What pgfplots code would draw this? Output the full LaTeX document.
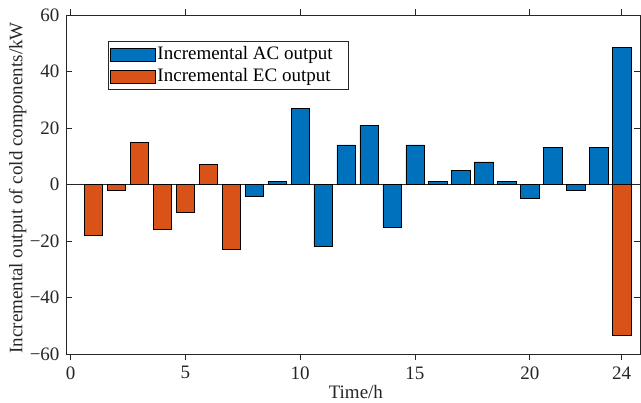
\documentclass[border=0pt]{standalone}
\usepackage{fontspec}
\setmainfont{Liberation Serif}
\usepackage{pgfplots}
\pgfplotsset{compat=1.18}
\definecolor{acblue}{RGB}{0,114,189}
\definecolor{ecorange}{RGB}{217,83,25}
\definecolor{axgray}{RGB}{38,38,38}
\begin{document}
\fontsize{19bp}{23bp}\selectfont
\begin{tikzpicture}
\useasboundingbox (-66bp,-49bp) rectangle (575bp,354bp);
\begin{axis}[
 at={(0,0)}, anchor=south west,
 scale only axis, width=574bp, height=339bp,
 xmin=-0.2, xmax=24.8, ymin=-60, ymax=60,
 xtick={0,5,10,15,20,24},
 ytick={-60,-40,-20,0,20,40,60},
 yticklabels={−60,−40,−20,0,20,40,60},
 tick align=inside,
 major tick length=6bp,
 axis line style={axgray, line width=0.6pt},
 tick style={axgray, line width=0.6pt},
 tick label style={font=\fontsize{19bp}{23bp}\selectfont, text=axgray},
 /pgf/number format/assume math mode=true,
 xlabel={Time/h},
 ylabel={Incremental output of cold components/kW},
 xlabel style={at={(axis description cs:0.505,-0.112)}, anchor=center, text=axgray},
 ylabel style={at={(axis description cs:-0.084,0.49)}, anchor=center, text=axgray},
 ybar, bar width=0.8, bar shift=0pt,
 extra y ticks={0}, extra y tick labels={},
 extra y tick style={grid=major, major grid style={axgray, line width=0.6pt}, major tick length=0pt},
 legend style={at={(axis description cs:0.0725,0.923)}, anchor=north west, draw=axgray, line width=0.6pt,
   font=\fontsize{19bp}{23bp}\selectfont, inner xsep=2bp, inner ysep=3bp, row sep=2bp},
 legend cell align=left,
]
\addplot[fill=acblue, draw=black, line width=0.6pt, bar shift=0pt,
  legend image code/.code={\draw[fill=acblue,draw=black,line width=0.6pt] (0bp,-6.5bp) rectangle (45bp,6.5bp);}]
 coordinates {(8,-4) (9,1) (10,27) (11,-22) (12,14) (13,21) (14,-15) (15,14) (16,1) (17,5) (18,8) (19,1) (20,-5) (21,13) (22,-2) (23,13) (24,48.4)};
\addlegendentry{Incremental AC output\rule{12bp}{0pt}}
\addplot[fill=ecorange, draw=black, line width=0.6pt, bar shift=0pt,
  legend image code/.code={\draw[fill=ecorange,draw=black,line width=0.6pt] (0bp,-6.5bp) rectangle (45bp,6.5bp);}]
 coordinates {(1,-18) (2,-2) (3,15) (4,-16) (5,-10) (6,7) (7,-23) (24,-53.5)};
\addlegendentry{Incremental EC output\rule{12bp}{0pt}}
\end{axis}
\end{tikzpicture}
\end{document}
